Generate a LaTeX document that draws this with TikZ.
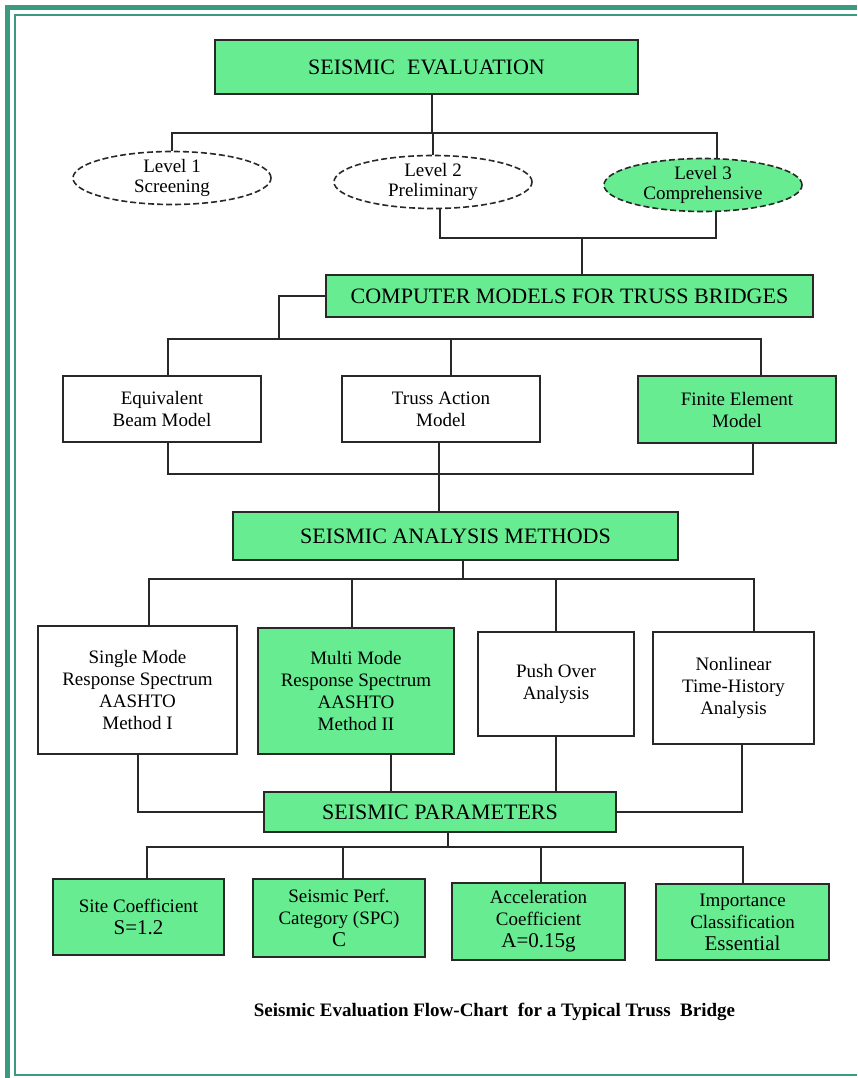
\documentclass[tikz,border=0pt]{standalone}
\usepackage{fontspec}
\setmainfont{Liberation Serif}
\usetikzlibrary{shapes.geometric}
\definecolor{boxgreen}{RGB}{104,236,146}
\definecolor{framegreen}{RGB}{58,155,128}
\definecolor{linegray}{RGB}{40,40,40}
\newcommand{\headfont}{\fontsize{22}{26}\selectfont}
\newcommand{\boxfont}{\fontsize{19}{22}\selectfont}
\newcommand{\levelfont}{\fontsize{19}{20}\selectfont}
\newcommand{\valuefont}{\fontsize{21}{23}\selectfont}
\tikzstyle{headbox} = [draw=linegray, fill=boxgreen, line width=2pt,
    rectangle, inner sep=0pt, font=\headfont]
\tikzstyle{plainbox} = [draw=linegray, fill=white, line width=2pt,
    rectangle, inner sep=0pt, align=center, font=\boxfont]
\tikzstyle{greenbox} = [plainbox, fill=boxgreen]
\tikzstyle{levelnode} = [draw=linegray, dash pattern=on 6pt off 3pt,
    line width=1.6pt, ellipse, inner sep=0pt, align=center,
    font=\levelfont, minimum width=198, minimum height=53]
\tikzstyle{link} = [draw=linegray, line width=2pt]
\tikzstyle{frameband} = [draw=framegreen, line width=5pt]
\tikzstyle{frameline} = [draw=framegreen, line width=2pt]
\begin{document}
\begin{tikzpicture}[x=1pt,y=-1pt]
\useasboundingbox (0,0) rectangle (857,1078);
\draw[frameband] (7.5,1078) -- (7.5,7.5) -- (857,7.5);
\draw[frameline] (857,15) -- (15,15) -- (15,1075) -- (857,1075);

\node[headbox, minimum width=423, minimum height=54] (evaluation) at (426.5,67) {SEISMIC\hspace{0.3em} EVALUATION};

\node[levelnode] (level1) at (172,178) {Level 1\\Screening};
\node[levelnode] (level2) at (433,182) {Level 2\\Preliminary};
\node[levelnode, fill=boxgreen] (level3) at (703,185) {Level 3\\Comprehensive};

\node[headbox, minimum width=487, minimum height=42] (computer) at (569.5,296) {COMPUTER MODELS FOR TRUSS BRIDGES};

\node[plainbox, minimum width=198, minimum height=66] (beam) at (162,409) {Equivalent\\Beam Model};
\node[plainbox, minimum width=198, minimum height=66] (truss) at (441,409) {Truss Action\\Model};
\node[greenbox, minimum width=198, minimum height=67] (finite) at (737,409.5) {Finite Element\\Model};

\node[headbox, minimum width=445, minimum height=48] (analysis) at (455.5,536) {SEISMIC ANALYSIS METHODS};

\node[plainbox, minimum width=199, minimum height=128] (single) at (137.5,690) {Single Mode\\Response Spectrum\\AASHTO\\Method I};
\node[greenbox, minimum width=196, minimum height=126] (multi) at (356,691) {Multi Mode\\Response Spectrum\\AASHTO\\Method II};
\node[plainbox, minimum width=156, minimum height=104] (pushover) at (556,684) {Push Over\\Analysis};
\node[plainbox, minimum width=161, minimum height=112] (nonlinear) at (733.5,688) {Nonlinear\\Time-History\\Analysis};

\node[headbox, minimum width=352, minimum height=40] (parameters) at (440,812) {SEISMIC PARAMETERS};

\node[greenbox, minimum width=171, minimum height=76] (site) at (138.5,917) {Site Coefficient\\{\valuefont S=1.2}};
\node[greenbox, minimum width=172, minimum height=78] (perf) at (339,918) {Seismic Perf.\\Category (SPC)\\{\valuefont C}};
\node[greenbox, minimum width=173, minimum height=77] (accel) at (538.5,921.5) {Acceleration\\Coefficient\\{\valuefont A=0.15g}};
\node[greenbox, minimum width=173, minimum height=76] (importance) at (742.5,922) {Importance\\Classification\\{\valuefont Essential}};

\node[font=\bfseries\boxfont] (caption) at (494.5,1012) {Seismic Evaluation Flow-Chart\ \ for a Typical Truss\ \ Bridge};

\coordinate (b1) at (432,133);
\draw[link] (evaluation.south -| b1) -- (b1);
\draw[link] (level1.north) |- (b1) -| ([xshift=14pt]level3.north);
\draw[link] (level2.north) -- (level2.north |- b1);
\coordinate (b2) at (582,238);
\draw[link] ([xshift=7pt]level2.south) |- (b2) -| ([xshift=13pt]level3.south);
\draw[link] (b2) -- (b2 |- computer.north);

\coordinate (b3) at (279,339);
\draw[link] (computer.west) -| (b3);
\draw[link] ([xshift=6pt]beam.north) |- (b3) -| ([xshift=24pt]finite.north);
\draw[link] ([xshift=10pt]truss.north) -- ([xshift=10pt]truss.north |- b3);
\coordinate (b4) at (439,474);
\draw[link] ([xshift=6pt]beam.south) |- (b4) -| ([xshift=16pt]finite.south);
\draw[link] (b4 |- truss.south) -- (b4 |- analysis.north);

\coordinate (b5) at (463,579);
\draw[link] (b5 |- analysis.south) -- (b5);
\draw[link] ([xshift=11pt]single.north) |- (b5) -| ([xshift=20pt]nonlinear.north);
\draw[link] ([xshift=-4pt]multi.north) -- ([xshift=-4pt]multi.north |- b5);
\draw[link] (pushover.north) -- (pushover.north |- b5);

\draw[link] (single.south) |- (parameters.west);
\draw[link] ([xshift=35pt]multi.south) -- ([xshift=35pt]multi.south |- parameters.north);
\draw[link] (pushover.south) -- (pushover.south |- parameters.north);
\draw[link] ([xshift=8pt]nonlinear.south) |- (parameters.east);

\coordinate (b6) at (448,847);
\draw[link] (b6 |- parameters.south) -- (b6);
\draw[link] ([xshift=8pt]site.north) |- (b6) -| (importance.north);
\draw[link] ([xshift=4pt]perf.north) -- ([xshift=4pt]perf.north |- b6);
\draw[link] ([xshift=2pt]accel.north) -- ([xshift=2pt]accel.north |- b6);
\end{tikzpicture}
\end{document}
